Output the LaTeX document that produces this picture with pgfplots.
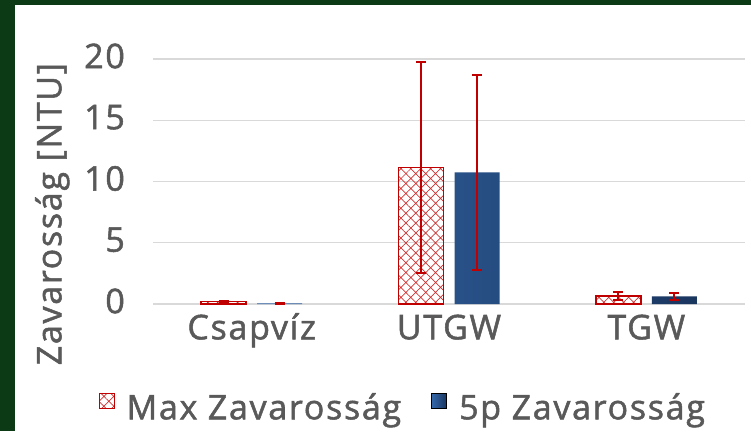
\documentclass[border=0pt]{standalone}
\usepackage{pgfplots}
\pgfplotsset{compat=1.18}
\usepackage{pgfplotstable}
\usetikzlibrary{patterns.meta}
\usepackage{fontspec}
\setmainfont{Open Sans}[LetterSpace=5, FakeBold=1.5]

\definecolor{framegreen}{RGB}{11,58,20}
\definecolor{gridgray}{RGB}{217,217,217}
\definecolor{textgray}{RGB}{89,89,89}
\definecolor{maxred}{RGB}{192,0,0}
\definecolor{blueL}{RGB}{52,104,170}
\definecolor{blueR}{RGB}{26,54,95}

\newcommand\chartfont{\fontsize{34}{40}\selectfont}

% x = category index, y = value, e = error (NTU)
\pgfplotstableread{
x y e
0 0.20 0.05
1 11.15 8.6
2 0.65 0.32
}\maxdata
\pgfplotstableread{
x y e
0 0.06 0.04
1 10.75 7.95
2 0.62 0.30
}\fivedata

\begin{document}
\begin{tikzpicture}
\fill[framegreen] (0,0) rectangle (751pt,431pt);
\fill[white] (15pt,0) rectangle (751pt,426pt);
\begin{axis}[
    at={(153pt,127pt)}, anchor=south west,
    scale only axis, width=592pt, height=245pt,
    ybar=11pt, bar width=45pt,
    xmin=-0.5, xmax=2.5, ymin=0, ymax=20,
    xtick={0,1,2}, xticklabels={Csapvíz,UTGW,TGW},
    ytick={0,5,10,15,20},
    ymajorgrids, grid style={gridgray, line width=1.3pt},
    axis line style={draw=none}, tick style={draw=none},
    /pgf/number format/assume math mode=true,
    tick label style={font=\chartfont, text=textgray},
    xticklabel style={anchor=base, inner sep=0pt, yshift=-31pt},
    yticklabel style={anchor=east, inner sep=0pt, xshift=-28pt, yshift=3pt},
    ylabel={Zavarosság [NTU]},
    ylabel style={font=\chartfont, text=textgray,
                  at={(axis description cs:-0.17,0.367)}, anchor=center},
    legend style={at={(0.42,-0.398)}, anchor=center, draw=none, fill=none,
                  font=\chartfont, text=textgray, legend columns=2,
                  nodes={inner sep=0pt},
                  /tikz/every odd column/.append style={column sep=12pt},
                  /tikz/every even column/.append style={column sep=30pt}},
    % the invisible point lowers the square against the text
    legend image code/.code={\draw[#1, line width=1pt] (0pt,-1pt) rectangle (15pt,14pt);
                             \path (0pt,24pt);},
    clip=false,
]
\addplot[draw=maxred, line width=1.5pt,
    pattern={Hatch[angle=45,distance=7pt,line width=0.7pt]}, pattern color=maxred!80,
    error bars/.cd, y dir=both, y explicit,
    error bar style={maxred, line width=1.8pt},
    error mark options={rotate=90, maxred, mark size=5pt, line width=1.8pt}]
  table[x=x, y=y, y error=e] {\maxdata};
\addlegendentry{Max Zavarosság}
\addplot[draw=none, left color=blueL, right color=blueR,
    error bars/.cd, y dir=both, y explicit,
    error bar style={maxred, line width=1.8pt},
    error mark options={rotate=90, maxred, mark size=5pt, line width=1.8pt}]
  table[x=x, y=y, y error=e] {\fivedata};
\addlegendentry{5p Zavarosság}
\end{axis}
\pgfresetboundingbox
\useasboundingbox (0,0) rectangle (751pt,431pt);
\end{tikzpicture}
\end{document}
